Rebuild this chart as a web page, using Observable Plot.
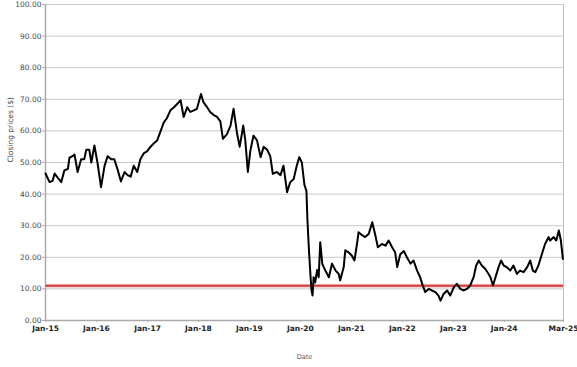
<!DOCTYPE html>
<html>
<head>
<meta charset="utf-8">
<script src="https://cdn.jsdelivr.net/npm/d3@7"></script>
<script src="https://cdn.jsdelivr.net/npm/@observablehq/plot@0.6"></script>
<style>
  html, body { margin: 0; padding: 0; background: #fff; }
  #chart svg { display: block; }
</style>
</head>
<body>
<div id="chart"></div>
<script>
const yearFrac = [
  2015.00, 2015.03, 2015.08, 2015.14, 2015.18, 2015.25, 2015.31, 2015.37, 2015.44, 2015.47,
  2015.53, 2015.57, 2015.63, 2015.70, 2015.76, 2015.80, 2015.86, 2015.90, 2015.96, 2016.02,
  2016.09, 2016.16, 2016.22, 2016.29, 2016.35, 2016.42, 2016.48, 2016.55, 2016.61, 2016.67,
  2016.73, 2016.80, 2016.86, 2016.93, 2016.99, 2017.06, 2017.12, 2017.19, 2017.25, 2017.32,
  2017.38, 2017.45, 2017.52, 2017.61, 2017.65, 2017.71, 2017.78, 2017.84, 2017.91, 2017.97,
  2018.05, 2018.10, 2018.17, 2018.23, 2018.30, 2018.36, 2018.43, 2018.48, 2018.56, 2018.63,
  2018.69, 2018.76, 2018.81, 2018.88, 2018.92, 2018.97, 2019.02, 2019.08, 2019.15, 2019.22,
  2019.28, 2019.35, 2019.41, 2019.46, 2019.54, 2019.61, 2019.67, 2019.74, 2019.80, 2019.87,
  2019.93, 2019.98, 2020.03, 2020.08, 2020.12, 2020.14, 2020.17, 2020.20, 2020.22, 2020.24,
  2020.26, 2020.29, 2020.33, 2020.36, 2020.39, 2020.43, 2020.49, 2020.56, 2020.62, 2020.69,
  2020.75, 2020.78, 2020.85, 2020.88, 2020.95, 2021.01, 2021.06, 2021.11, 2021.14, 2021.21,
  2021.27, 2021.34, 2021.41, 2021.47, 2021.52, 2021.60, 2021.67, 2021.73, 2021.80, 2021.86,
  2021.90, 2021.96, 2022.03, 2022.09, 2022.16, 2022.22, 2022.29, 2022.35, 2022.39, 2022.45,
  2022.52, 2022.58, 2022.65, 2022.71, 2022.75, 2022.81, 2022.88, 2022.94, 2023.01, 2023.07,
  2023.14, 2023.20, 2023.27, 2023.33, 2023.40, 2023.45, 2023.50, 2023.56, 2023.63, 2023.69,
  2023.73, 2023.78, 2023.82, 2023.89, 2023.94, 2023.99, 2024.05, 2024.12, 2024.18, 2024.25,
  2024.31, 2024.38, 2024.45, 2024.51, 2024.56, 2024.61, 2024.67, 2024.74, 2024.80, 2024.87,
  2024.90, 2024.97, 2025.02, 2025.07, 2025.11, 2025.15
];
const closePrice = [
  46.5, 45.5, 43.8, 44.2, 46.5, 45.0, 43.8, 47.5, 48.0, 51.5,
  52.0, 52.5, 47.0, 51.0, 51.0, 54.0, 54.0, 50.0, 55.4, 50.0,
  42.2, 49.0, 52.0, 51.0, 51.0, 47.5, 44.0, 47.0, 46.0, 45.5,
  49.0, 47.0, 51.0, 53.0, 53.5, 55.0, 56.0, 57.0, 59.6, 62.7,
  64.0, 66.5, 67.5, 69.0, 69.7, 64.4, 67.5, 66.0, 66.5, 67.0,
  71.7, 69.0, 67.5, 66.0, 65.0, 64.5, 63.0, 57.5, 59.0, 61.7,
  67.0, 59.0, 55.0, 61.7, 57.0, 47.0, 53.8, 58.5, 57.0, 51.7,
  55.0, 54.0, 52.0, 46.4, 47.0, 46.0, 49.0, 40.6, 43.7, 44.8,
  49.0, 51.7, 50.0, 43.0, 41.0, 31.6, 22.0, 14.0, 9.5, 7.9,
  13.7, 12.0, 16.0, 13.7, 24.8, 17.9, 15.8, 13.7, 18.0, 15.8,
  14.8, 12.7, 16.9, 22.2, 21.5, 20.5, 19.0, 24.2, 27.9, 27.0,
  26.4, 27.4, 31.1, 27.0, 23.2, 24.2, 23.7, 25.3, 23.2, 21.5,
  16.9, 21.0, 22.0, 20.0, 18.0, 19.0, 15.8, 13.7, 11.6, 9.0,
  10.0, 9.5, 9.0, 7.9, 6.3, 8.4, 9.5, 7.9, 10.5, 11.6,
  10.0, 9.5, 10.0, 11.0, 13.7, 17.4, 19.0, 17.4, 16.3, 14.8,
  13.7, 11.1, 13.2, 16.9, 19.0, 17.4, 16.9, 15.8, 17.4, 14.8,
  15.8, 15.3, 16.9, 19.0, 15.8, 15.3, 17.4, 21.1, 24.2, 26.4,
  25.3, 26.4, 25.3, 28.5, 25.3, 19.5
];
const thresholdPrice = [11];
const yTickValues = [0, 10, 20, 30, 40, 50, 60, 70, 80, 90, 100];
const xTickDates = ["2015-01-01", "2016-01-01", "2017-01-01", "2018-01-01", "2019-01-01",
                    "2020-01-01", "2021-01-01", "2022-01-01", "2023-01-01", "2024-01-01", "2025-03-01"];
const xTickLabels = ["Jan-15", "Jan-16", "Jan-17", "Jan-18", "Jan-19",
                     "Jan-20", "Jan-21", "Jan-22", "Jan-23", "Jan-24", "Mar-25"];
const xTitle = "Date";
const yTitle = "Closing prices ($)";

const toDate = (y) => {
  const yr = Math.floor(y);
  const s = Date.UTC(yr, 0, 1), e = Date.UTC(yr + 1, 0, 1);
  return new Date(s + (y - yr) * (e - s));
};
const data = yearFrac.map((t, i) => ({ date: toDate(t), price: closePrice[i] }));
const xTicks = xTickDates.map(d => new Date(d + "T00:00:00Z"));
const labelMap = new Map(xTicks.map((d, i) => [+d, xTickLabels[i]]));
const xStart = xTicks[0], xEnd = xTicks[xTicks.length - 1];

const chart = Plot.plot({
  width: 577,
  height: 367,
  marginLeft: 45,
  marginRight: 14,
  marginTop: 4,
  marginBottom: 47,
  style: { fontFamily: "DejaVu Sans", fontSize: "7.5px", background: "#fff", color: "#333" },
  x: { type: "utc", domain: [xStart, xEnd] },
  y: { domain: [0, 100] },
  marks: [
    Plot.gridY(yTickValues, { stroke: "#c8c8c8", strokeOpacity: 1, strokeWidth: 1 }),
    Plot.ruleX([xEnd], { stroke: "#c0c0c0", strokeWidth: 1 }),
    Plot.axisY(yTickValues, {
      tickFormat: d => d.toFixed(2), tickSize: 3, tickPadding: 1,
      fill: "#4a4a4a", stroke: "#aaa", label: null
    }),
    Plot.axisX(xTicks, {
      tickFormat: d => labelMap.get(+d), tickSize: 2, tickPadding: 3,
      fill: "#222", stroke: "#aaa", fontWeight: "bold", label: null
    }),
    Plot.ruleX([xStart], { stroke: "#aaa", strokeWidth: 1.5 }),
    Plot.ruleY([0], { stroke: "#aaa", strokeWidth: 1.5 }),
    Plot.ruleY(thresholdPrice, { stroke: "#f3c9c9", strokeWidth: 4 }),
    Plot.ruleY(thresholdPrice, { stroke: "#d23c3c", strokeWidth: 2 }),
    Plot.line(data, { x: "date", y: "price", stroke: "#000", strokeWidth: 2, strokeLinejoin: "round" }),
    Plot.text([xTitle], { frameAnchor: "bottom", dy: 38, fontSize: 6.5, fill: "#555" }),
    Plot.text([yTitle], { frameAnchor: "left", dx: -35, rotate: -90, fontSize: 7.5, fill: "#444" })
  ]
});
document.getElementById("chart").appendChild(chart);
</script>
</body>
</html>
